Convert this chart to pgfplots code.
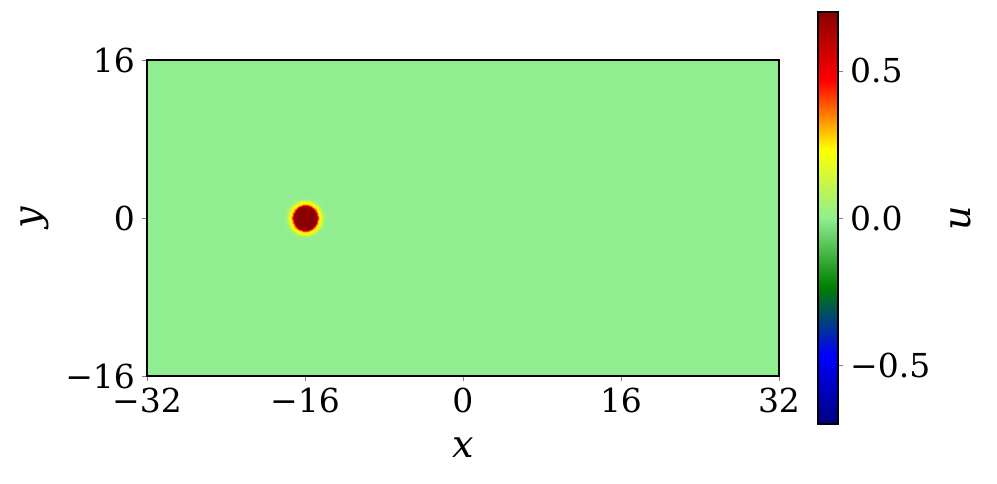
\documentclass[border=0pt]{standalone}
\usepackage{fontspec}
\setmainfont{DejaVu Serif}
\usepackage{pgfplots}
\pgfplotsset{compat=1.18}
\newcommand{\tickfont}{\fontsize{16.5}{16.5}\selectfont}
\newcommand{\labfont}{\fontsize{19}{19}\selectfont\itshape}
\pgfplotsset{colormap={spot}{rgb255=(0,0,128) rgb255=(0,0,255) rgb255=(0,128,0) rgb255=(144,238,144) rgb255=(255,255,0) rgb255=(255,0,0) rgb255=(139,0,0)}}

% background field (u ~ 0 everywhere)
\pgfplotstableread{
x y u
-32 -16 0.0
32 -16 0.0
-32 16 0.0
32 16 0.0
}\bgdata

% soliton near (-16,0): angle (deg), radius, u
\pgfplotstableread{
a r u
0 0 0.70
20 0 0.70
40 0 0.70
60 0 0.70
80 0 0.70
100 0 0.70
120 0 0.70
140 0 0.70
160 0 0.70
180 0 0.70
200 0 0.70
220 0 0.70
240 0 0.70
260 0 0.70
280 0 0.70
300 0 0.70
320 0 0.70
340 0 0.70
360 0 0.70
0 1.15 0.70
20 1.15 0.70
40 1.15 0.70
60 1.15 0.70
80 1.15 0.70
100 1.15 0.70
120 1.15 0.70
140 1.15 0.70
160 1.15 0.70
180 1.15 0.70
200 1.15 0.70
220 1.15 0.70
240 1.15 0.70
260 1.15 0.70
280 1.15 0.70
300 1.15 0.70
320 1.15 0.70
340 1.15 0.70
360 1.15 0.70
0 1.25 0.60
20 1.25 0.60
40 1.25 0.60
60 1.25 0.60
80 1.25 0.60
100 1.25 0.60
120 1.25 0.60
140 1.25 0.60
160 1.25 0.60
180 1.25 0.60
200 1.25 0.60
220 1.25 0.60
240 1.25 0.60
260 1.25 0.60
280 1.25 0.60
300 1.25 0.60
320 1.25 0.60
340 1.25 0.60
360 1.25 0.60
0 1.33 0.42
20 1.33 0.42
40 1.33 0.42
60 1.33 0.42
80 1.33 0.42
100 1.33 0.42
120 1.33 0.42
140 1.33 0.42
160 1.33 0.42
180 1.33 0.42
200 1.33 0.42
220 1.33 0.42
240 1.33 0.42
260 1.33 0.42
280 1.33 0.42
300 1.33 0.42
320 1.33 0.42
340 1.33 0.42
360 1.33 0.42
0 1.42 0.28
20 1.42 0.28
40 1.42 0.28
60 1.42 0.28
80 1.42 0.28
100 1.42 0.28
120 1.42 0.28
140 1.42 0.28
160 1.42 0.28
180 1.42 0.28
200 1.42 0.28
220 1.42 0.28
240 1.42 0.28
260 1.42 0.28
280 1.42 0.28
300 1.42 0.28
320 1.42 0.28
340 1.42 0.28
360 1.42 0.28
0 1.55 0.22
20 1.55 0.22
40 1.55 0.22
60 1.55 0.22
80 1.55 0.22
100 1.55 0.22
120 1.55 0.22
140 1.55 0.22
160 1.55 0.22
180 1.55 0.22
200 1.55 0.22
220 1.55 0.22
240 1.55 0.22
260 1.55 0.22
280 1.55 0.22
300 1.55 0.22
320 1.55 0.22
340 1.55 0.22
360 1.55 0.22
0 1.70 0.15
20 1.70 0.15
40 1.70 0.15
60 1.70 0.15
80 1.70 0.15
100 1.70 0.15
120 1.70 0.15
140 1.70 0.15
160 1.70 0.15
180 1.70 0.15
200 1.70 0.15
220 1.70 0.15
240 1.70 0.15
260 1.70 0.15
280 1.70 0.15
300 1.70 0.15
320 1.70 0.15
340 1.70 0.15
360 1.70 0.15
0 1.85 0.07
20 1.85 0.07
40 1.85 0.07
60 1.85 0.07
80 1.85 0.07
100 1.85 0.07
120 1.85 0.07
140 1.85 0.07
160 1.85 0.07
180 1.85 0.07
200 1.85 0.07
220 1.85 0.07
240 1.85 0.07
260 1.85 0.07
280 1.85 0.07
300 1.85 0.07
320 1.85 0.07
340 1.85 0.07
360 1.85 0.07
0 2.00 0.02
20 2.00 0.02
40 2.00 0.02
60 2.00 0.02
80 2.00 0.02
100 2.00 0.02
120 2.00 0.02
140 2.00 0.02
160 2.00 0.02
180 2.00 0.02
200 2.00 0.02
220 2.00 0.02
240 2.00 0.02
260 2.00 0.02
280 2.00 0.02
300 2.00 0.02
320 2.00 0.02
340 2.00 0.02
360 2.00 0.02
0 2.30 0.00
20 2.30 0.00
40 2.30 0.00
60 2.30 0.00
80 2.30 0.00
100 2.30 0.00
120 2.30 0.00
140 2.30 0.00
160 2.30 0.00
180 2.30 0.00
200 2.30 0.00
220 2.30 0.00
240 2.30 0.00
260 2.30 0.00
280 2.30 0.00
300 2.30 0.00
320 2.30 0.00
340 2.30 0.00
360 2.30 0.00
}\spotdata

\begin{document}
\begin{tikzpicture}
\begin{axis}[
  name=main,
  at={(0,0)}, anchor=south west,
  scale only axis, width=316pt, height=158pt,
  xmin=-32, xmax=32, ymin=-16, ymax=16,
  xtick={-32,-16,0,16,32}, xticklabels={−32,−16,0,16,32},
  ytick={-16,0,16}, yticklabels={−16,0,16},
  tick align=outside, major tick length=2.5pt,
  xtick pos=left, ytick pos=left,
  tick label style={font=\tickfont},
  axis line style={line width=0.6pt},
  axis on top,
  xlabel={x}, ylabel={y},
  label style={font=\labfont},
  xlabel style={at={(axis description cs:0.5,-0.2278)}, anchor=center},
  ylabel style={at={(axis description cs:-0.1772,0.5)}, anchor=center},
  colormap name=spot, point meta min=-0.7, point meta max=0.7,
  colorbar,
  colorbar style={
    at={(parent axis.east)}, anchor=west, xshift=11pt,
    scale only axis, width=10pt, height=206pt,
    ytick={-0.5,0,0.5}, yticklabels={−0.5,0.0,0.5},
    ytick pos=right, yticklabel pos=right,
    tick align=outside, major tick length=2.5pt,
    yticklabel style={font=\tickfont},
    axis line style={line width=0.6pt},
    ylabel={u},
    ylabel style={font=\labfont, at={(axis description cs:7.15,0.5)}, anchor=center},
  },
]
\addplot[surf, shader=flat, mesh/cols=2, point meta=explicit] table[x=x, y=y, meta=u] {\bgdata};
\end{axis}
\begin{axis}[
  at={(0,0)}, anchor=south west,
  scale only axis, width=316pt, height=158pt,
  xmin=-16, xmax=48, ymin=-16, ymax=16,
  hide axis,
  colormap name=spot, point meta min=-0.7, point meta max=0.7,
]
\addplot[surf, shader=interp, mesh/cols=19, data cs=polar, point meta=explicit] table[x=a, y=r, meta=u] {\spotdata};
\end{axis}
\path (-73.5pt,-53.5pt) rectangle (425pt,188pt);
\end{tikzpicture}
\end{document}
